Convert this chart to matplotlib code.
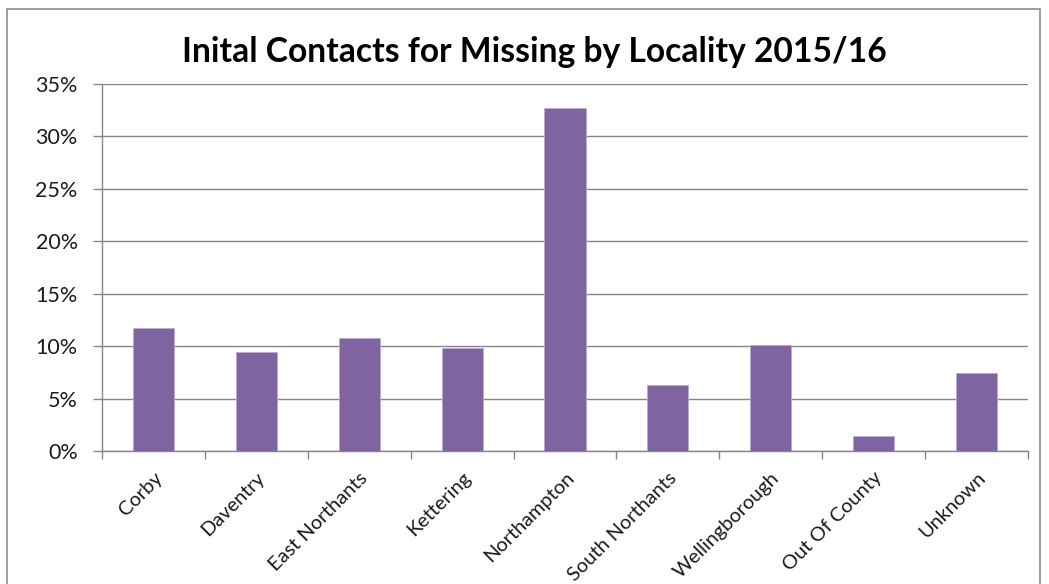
import matplotlib
matplotlib.use("Agg")
import matplotlib.pyplot as plt
from matplotlib.patches import Rectangle
from matplotlib.ticker import FuncFormatter, FixedLocator

localities = ["Corby", "Daventry", "East Northants", "Kettering", "Northampton",
              "South Northants", "Wellingborough", "Out Of County", "Unknown"]
contact_share = [11.7, 9.4, 10.8, 9.8, 32.7, 6.3, 10.1, 1.4, 7.4]
y_ticks = [0, 5, 10, 15, 20, 25, 30, 35]
title = "Inital Contacts for Missing by Locality 2015/16"

W, H, DPI = 1049, 584, 100
fig = plt.figure(figsize=(W / DPI, H / DPI), dpi=DPI)
fig.patch.set_facecolor("white")

# chart-area frame
fig.add_artist(Rectangle((7 / W, -0.05), (1040 - 7) / W, 1.05 - 9 / H,
                         transform=fig.transFigure, fill=False,
                         edgecolor="#8c8c8c", linewidth=1.2))

ax = fig.add_axes([102 / W, 133 / H, (1028 - 102) / W, (451 - 84) / H])

grid_c = "#868686"
text_c = "#1a1a1a"
x = list(range(len(localities)))
ax.bar(x, contact_share, width=0.4, color="#8064A2", edgecolor="#b9a9cf",
       linewidth=0.6, zorder=3)

ax.set_xlim(-0.5, len(localities) - 0.5)
ax.set_ylim(0, 35)
ax.set_yticks(y_ticks)
ax.yaxis.set_major_formatter(FuncFormatter(lambda v, p: f"{v:.0f}%"))
ax.grid(axis="y", color=grid_c, linewidth=1.0, zorder=0)

for s in ["top", "right"]:
    ax.spines[s].set_visible(False)
for s in ["left", "bottom"]:
    ax.spines[s].set_color(grid_c)
    ax.spines[s].set_linewidth(1.0)

ax.tick_params(axis="y", direction="out", length=6.5, width=1.0, color=grid_c,
               pad=11, labelsize=15.5, labelcolor=text_c)

# category labels at centres, boundary ticks between categories
ax.set_xticks(x)
ax.set_xticklabels(localities, rotation=45, ha="right", rotation_mode="anchor",
                   fontsize=14.4, color=text_c)
ax.tick_params(axis="x", which="major", length=0, pad=13)
ax.xaxis.set_minor_locator(FixedLocator([i - 0.5 for i in range(len(localities) + 1)]))
ax.tick_params(axis="x", which="minor", direction="out", length=6, width=1.0,
               color=grid_c)

for lab in ax.get_xticklabels() + ax.get_yticklabels():
    lab.set_family("Lato")

fig.text(534 / W, 1 - 52 / H, title, ha="center", va="center",
         fontsize=24.2, fontweight="bold", family="Lato", color="#000000")

fig.savefig("out.png", dpi=DPI, facecolor="white")
